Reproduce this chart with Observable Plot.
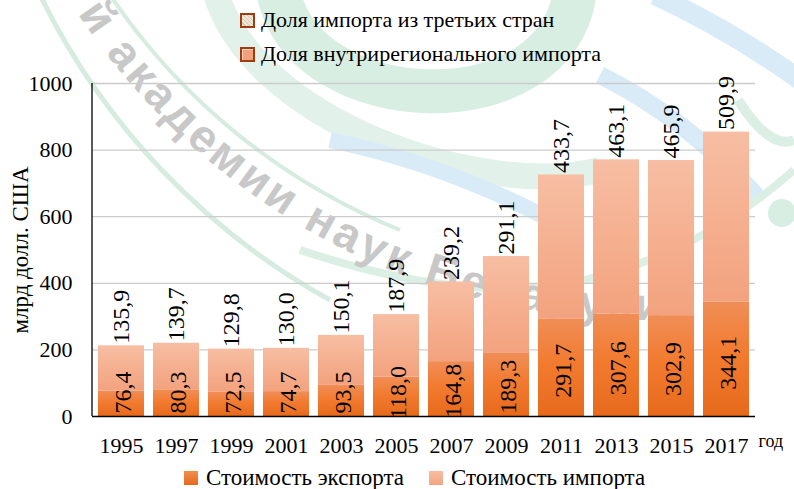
<!DOCTYPE html>
<html>
<head>
<meta charset="utf-8">
<script src="https://cdn.jsdelivr.net/npm/d3@7"></script>
<script src="https://cdn.jsdelivr.net/npm/@observablehq/plot@0.6"></script>
<style>
  body { margin: 0; background: #fff; font-family: "Liberation Serif", "Times New Roman", serif; }
  #wrap { position: relative; width: 794px; height: 489px; overflow: hidden; background: #fff; }
  #wm { position: absolute; left: 0; top: 0; }
  #chart { position: absolute; left: 0; top: 70px; }
  .item { position: absolute; display: flex; align-items: center; white-space: nowrap; color: #000; }
  .top { font-size: 22px; height: 22px; }
  .bot { font-size: 23px; height: 24px; }
  .sw { box-sizing: border-box; flex: none; }
  .swHatch { width: 15px; height: 15px; border: 2px solid #9e3d10;
    background: repeating-linear-gradient(45deg, #efe6d6 0 2px, #d6c9b3 2px 3px); margin-right: 6px; }
  .swSalmon { width: 15px; height: 15px; border: 2px solid #9e3d10; background: #f2a07c;
    box-shadow: inset 1px 1px 0 #fbd3c0; margin-right: 6px; }
  .swExp { width: 14px; height: 14px; background: linear-gradient(#f0904f, #e8691c); margin-right: 8px; }
  .swImp { width: 14px; height: 14px; background: linear-gradient(#f7bea3, #f3a582); margin-right: 8px; }
</style>
</head>
<body>
<div id="wrap">
  <svg id="wm" width="794" height="489" viewBox="0 0 794 489">
    <defs>
      <path id="wmArc" d="M 7,-127.4 A 680 680 0 0 0 878.6,279"></path>
    </defs>
    <g fill="none" stroke-linecap="butt">
      <path d="M 278,-10 C 300,120 560,130 575,-10" stroke="#d8eee3" stroke-width="44"></path>
      <path d="M 215,-10 C 250,120 480,200 600,170" stroke="#e2f2ea" stroke-width="26"></path>
      <path d="M 330,140 Q 450,165 560,225" stroke="#d9ebf6" stroke-width="16"></path>
      <path d="M 600,75 Q 690,120 760,200" stroke="#d9ebf6" stroke-width="18"></path>
      <path d="M 655,-5 Q 730,30 800,80" stroke="#d9ebf6" stroke-width="20"></path>
      <path d="M 300,250 Q 450,300 560,285 Q 690,262 794,170" stroke="#dcefe5" stroke-width="8"></path>
      <path d="M 738,100 Q 770,150 794,140" stroke="#dcefe5" stroke-width="10"></path>
      <path d="M 40,-5 A 700 700 0 0 0 330,300" stroke="#d6ece1" stroke-width="5"></path>
      <path d="M 110,-5 A 640 640 0 0 0 400,230" stroke="#d6ece1" stroke-width="4"></path>
    </g>
    <circle cx="782" cy="213" r="14" fill="#d8eee3"></circle>
    <text font-family="Liberation Sans, Arial, sans-serif" font-weight="bold" font-size="46" fill="#c8c8c8">
      <textPath href="#wmArc" startOffset="158" textLength="690" lengthAdjust="spacing">й академии наук Беларуси</textPath>
    </text>
  </svg>

  <svg width="0" height="0" style="position:absolute">
    <defs>
      <linearGradient id="gExp" x1="0" y1="0" x2="0" y2="1">
        <stop offset="0%" stop-color="#f08e57"></stop>
        <stop offset="45%" stop-color="#f27b30"></stop>
        <stop offset="100%" stop-color="#e76a1c"></stop>
      </linearGradient>
      <linearGradient id="gImp" x1="0" y1="0" x2="0" y2="1">
        <stop offset="0%" stop-color="#f7bea3"></stop>
        <stop offset="100%" stop-color="#f3a27e"></stop>
      </linearGradient>
    </defs>
  </svg>

  <div class="item top" style="left:240px; top:9px;"><span class="sw swHatch"></span><span>Доля импорта из третьих стран</span></div>
  <div class="item top" style="left:240px; top:43px;"><span class="sw swSalmon"></span><span>Доля внутрирегионального импорта</span></div>

  <div id="chart"></div>

  <div class="item bot" style="left:184px; top:466px;"><span class="sw swExp"></span><span>Стоимость экспорта</span></div>
  <div class="item bot" style="left:429px; top:466px;"><span class="sw swImp"></span><span>Стоимость импорта</span></div>
</div>

<script>
const years = ["1995", "1997", "1999", "2001", "2003", "2005", "2007", "2009", "2011", "2013", "2015", "2017"];
const exportValues = [76.4, 80.3, 72.5, 74.7, 93.5, 118.0, 164.8, 189.3, 291.7, 307.6, 302.9, 344.1];
const importValues = [135.9, 139.7, 129.8, 130.0, 150.1, 187.9, 239.2, 291.1, 433.7, 463.1, 465.9, 509.9];
const yTicks = [0, 200, 400, 600, 800, 1000];
const yTitle = "млрд долл. США";
const xUnit = "год";

const rows = years.map((year, i) => ({year, exp: exportValues[i], imp: importValues[i]}));
const fmt = v => v.toFixed(1).replace(".", ",");
const serif = "Liberation Serif, Times New Roman, serif";

const chart = Plot.plot({
  width: 794,
  height: 388,
  marginLeft: 92,
  marginRight: 39,
  marginTop: 13,
  marginBottom: 42,
  style: {background: "transparent", fontFamily: serif, fontSize: "22px", color: "#000", overflow: "visible"},
  x: {domain: years, paddingInner: 0.17, paddingOuter: 0.09, tickSize: 0, tickPadding: 21, label: null},
  y: {domain: [0, 1000], ticks: yTicks, tickFormat: d => String(d), tickSize: 0, tickPadding: 20, label: null},
  marks: [
    Plot.ruleY(yTicks.filter(t => t > 0), {stroke: "#cccccc", strokeWidth: 1.3}),
    Plot.barY(rows, {x: "year", y1: 0, y2: "exp", fill: "url(#gExp)"}),
    Plot.barY(rows, {x: "year", y1: "exp", y2: d => d.exp + d.imp, fill: "url(#gImp)"}),
    Plot.ruleY([0], {stroke: "#000", strokeWidth: 1.3}),
    Plot.text(rows, {x: "year", y: d => d.exp + d.imp, text: d => fmt(d.imp), rotate: -90,
      textAnchor: "start", lineAnchor: "middle", dy: -2, fontSize: 24, fontFamily: serif, fill: "#000"}),
    Plot.text(rows, {x: "year", y: d => Math.max(d.exp * 0.47, 72), text: d => fmt(d.exp), rotate: -90,
      textAnchor: "middle", lineAnchor: "middle", dx: 2, fontSize: 24, fontFamily: serif, fill: "#000"}),
    Plot.text([yTitle], {frameAnchor: "left", rotate: -90, dx: -72, textAnchor: "middle",
      lineAnchor: "middle", fontSize: 23, fontFamily: serif, fill: "#000"}),
    Plot.text([xUnit], {frameAnchor: "bottom-right", dx: 3, dy: 25, textAnchor: "start",
      lineAnchor: "middle", fontSize: 18, fontFamily: serif, fill: "#000"})
  ]
});

document.getElementById("chart").appendChild(chart);

// y-axis line drawn from the library's own scales
const ys = chart.scale("y");
const xs = chart.scale("x");
const x0 = xs.range[0];
d3.select(chart).append("line")
  .attr("x1", x0).attr("x2", x0)
  .attr("y1", ys.apply(yTicks[yTicks.length - 1])).attr("y2", ys.apply(0))
  .attr("stroke", "#000").attr("stroke-width", 1.3);
</script>
</body>
</html>
